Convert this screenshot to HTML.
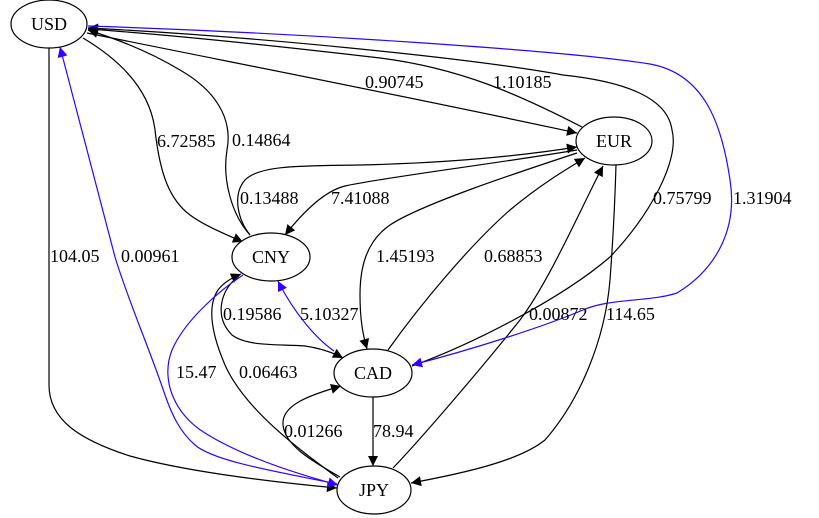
<!DOCTYPE html>
<html><head><meta charset="utf-8"><style>
html,body{margin:0;padding:0;background:#fff;}
svg{display:block;}
text{font-family:"Liberation Serif","DejaVu Serif",serif;font-size:18px;fill:#000;}
</style></head><body>
<svg width="819" height="518" viewBox="0 0 819 518" xmlns="http://www.w3.org/2000/svg">
<defs>
<marker id="ak" viewBox="0 0 10 10" refX="10" refY="5" markerWidth="14" markerHeight="10" markerUnits="userSpaceOnUse" orient="auto"><path d="M0,0 L10,5 L0,10 z" fill="#000"/></marker>
<marker id="ab" viewBox="0 0 10 10" refX="10" refY="5" markerWidth="14" markerHeight="10" markerUnits="userSpaceOnUse" orient="auto"><path d="M0,0 L10,5 L0,10 z" fill="#3300ff"/></marker>
</defs>
<rect width="819" height="518" fill="#fff"/>
<g fill="none" stroke="#000" stroke-width="1.2">
<path d="M87,33 C250,66 420,99 577,133" marker-end="url(#ak)"/>
<path d="M582,127 C520,95 460,68 380,58 C260,44 160,34 88,29" marker-end="url(#ak)"/>
<path d="M412,366 C470,345 560,300 610,257 C650,215 680,160 672,130 C668,100 630,82 563,75 C470,58 250,36 88,28" marker-end="url(#ak)"/>
<path d="M577,150 C500,163 380,178 345,186 C325,191 305,210 285,235" marker-end="url(#ak)"/>
<path d="M250,235 C238,220 232,195 245,180 C260,165 300,166 360,165 C450,163 520,156 577,147" marker-end="url(#ak)"/>
<path d="M250,235 C232,215 222,180 227,150 C233,118 215,90 180,70 C150,52 120,40 88,30" marker-end="url(#ak)"/>
<path d="M83,38 C120,60 150,90 155,130 C160,175 170,200 190,215 C205,226 225,234 243,242" marker-end="url(#ak)"/>
<path d="M49,48 L49,385 C49,420 80,440 130,456 C180,470 260,481 337,488" marker-end="url(#ak)"/>
<path d="M338,478 C300,450 245,410 225,365 C210,330 208,305 218,290 C224,282 232,278 241,274" marker-end="url(#ak)"/>
<path d="M233,281 C220,295 215,318 232,335 C248,347 280,344 305,346 C318,348 332,352 343,358" marker-end="url(#ak)"/>
<path d="M577,153 C510,175 420,205 390,225 C365,242 360,270 360,295 C360,320 363,335 367,349" marker-end="url(#ak)"/>
<path d="M388,350 C420,305 470,245 510,210 C540,185 565,170 585,158" marker-end="url(#ak)"/>
<path d="M393,468 C420,440 480,370 520,320 C550,280 580,210 603,166" marker-end="url(#ak)"/>
<path d="M616,165 C615,200 613,240 610,280 C605,340 580,400 545,440 C520,460 470,472 411,483" marker-end="url(#ak)"/>
<path d="M373,397 L373,466" marker-end="url(#ak)"/>
<path d="M340,477 C310,460 285,445 283,425 C281,405 310,395 341,386" marker-end="url(#ak)"/>
</g>
<g fill="none" stroke="#3300ff" stroke-width="1.2">
<path d="M88,26 C300,33 560,50 650,64 C705,74 722,125 730,180 C738,230 715,270 677,293 C650,302 610,298 583,310 C540,328 470,350 412,365" marker-end="url(#ab)"/>
<path d="M337,484 C280,472 215,462 195,445 C180,432 172,415 165,395 C150,350 128,300 115,257 L60,47" marker-end="url(#ab)"/>
<path d="M243,275 C220,290 185,320 172,350 C160,380 175,415 205,433 C240,455 290,472 338,485" marker-end="url(#ab)"/>
<path d="M334,351 C318,340 295,315 278,281" marker-end="url(#ab)"/>
</g>
<g fill="#fff" stroke="#000" stroke-width="1.2">
<ellipse cx="49" cy="24" rx="38" ry="24"/>
<ellipse cx="614" cy="141" rx="38" ry="24"/>
<ellipse cx="271" cy="257" rx="39" ry="24"/>
<ellipse cx="373" cy="373" rx="39" ry="24"/>
<ellipse cx="374" cy="490" rx="37" ry="24"/>
</g>
<g text-anchor="middle" font-family="Liberation Serif, DejaVu Serif, serif" font-size="18">
<text x="49" y="30">USD</text>
<text x="614" y="147">EUR</text>
<text x="271" y="263">CNY</text>
<text x="373" y="379">CAD</text>
<text x="374" y="496">JPY</text>
</g>
<g font-family="Liberation Serif, DejaVu Serif, serif" font-size="18">
<text x="157" y="147">6.72585</text>
<text x="232" y="146">0.14864</text>
<text x="365" y="88">0.90745</text>
<text x="493" y="88">1.10185</text>
<text x="240" y="204">0.13488</text>
<text x="331" y="204">7.41088</text>
<text x="653" y="204">0.75799</text>
<text x="733" y="204">1.31904</text>
<text x="376" y="262">1.45193</text>
<text x="484" y="262">0.68853</text>
<text x="50" y="262">104.05</text>
<text x="121" y="262">0.00961</text>
<text x="223" y="320">0.19586</text>
<text x="300" y="320">5.10327</text>
<text x="529" y="320">0.00872</text>
<text x="606" y="320">114.65</text>
<text x="176" y="378">15.47</text>
<text x="239" y="378">0.06463</text>
<text x="284" y="437">0.01266</text>
<text x="373" y="437">78.94</text>
</g>
</svg>
</body></html>
